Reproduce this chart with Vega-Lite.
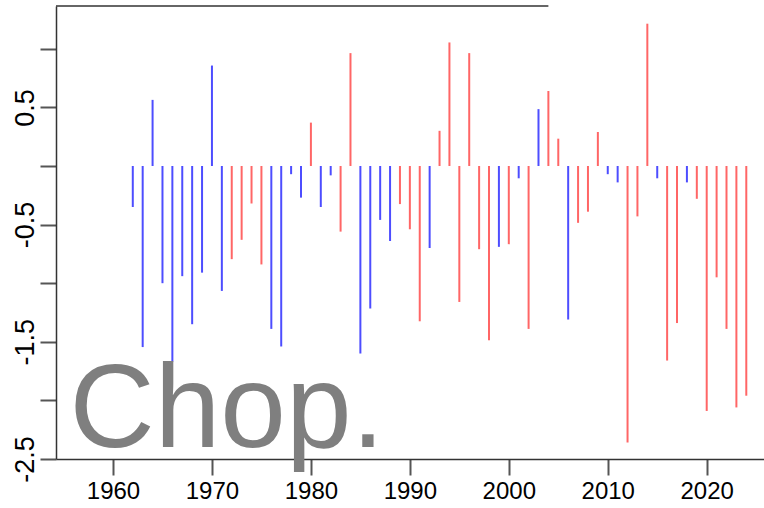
{
  "$schema": "https://vega.github.io/schema/vega-lite/v6.json",
  "autosize": {"type": "none"},
  "width": 708,
  "height": 453,
  "padding": {"left": 56, "top": 6, "right": 0, "bottom": 49},
  "background": "white",
  "config": {
    "view": {"stroke": null},
    "font": "Liberation Sans"
  },
  "data": {
    "values": [
      {"year": 1962, "value": -0.35, "group": "blue"},
      {"year": 1963, "value": -1.545, "group": "blue"},
      {"year": 1964, "value": 0.564, "group": "blue"},
      {"year": 1965, "value": -1.0, "group": "blue"},
      {"year": 1966, "value": -1.67, "group": "blue"},
      {"year": 1967, "value": -0.94, "group": "blue"},
      {"year": 1968, "value": -1.35, "group": "blue"},
      {"year": 1969, "value": -0.91, "group": "blue"},
      {"year": 1970, "value": 0.857, "group": "blue"},
      {"year": 1971, "value": -1.066, "group": "blue"},
      {"year": 1972, "value": -0.795, "group": "red"},
      {"year": 1973, "value": -0.63, "group": "red"},
      {"year": 1974, "value": -0.32, "group": "red"},
      {"year": 1975, "value": -0.84, "group": "red"},
      {"year": 1976, "value": -1.39, "group": "blue"},
      {"year": 1977, "value": -1.54, "group": "blue"},
      {"year": 1978, "value": -0.07, "group": "blue"},
      {"year": 1979, "value": -0.27, "group": "blue"},
      {"year": 1980, "value": 0.37, "group": "red"},
      {"year": 1981, "value": -0.35, "group": "blue"},
      {"year": 1982, "value": -0.08, "group": "blue"},
      {"year": 1983, "value": -0.56, "group": "red"},
      {"year": 1984, "value": 0.963, "group": "red"},
      {"year": 1985, "value": -1.6, "group": "blue"},
      {"year": 1986, "value": -1.216, "group": "blue"},
      {"year": 1987, "value": -0.46, "group": "blue"},
      {"year": 1988, "value": -0.64, "group": "blue"},
      {"year": 1989, "value": -0.325, "group": "red"},
      {"year": 1990, "value": -0.54, "group": "red"},
      {"year": 1991, "value": -1.325, "group": "red"},
      {"year": 1992, "value": -0.7, "group": "blue"},
      {"year": 1993, "value": 0.3, "group": "red"},
      {"year": 1994, "value": 1.054, "group": "red"},
      {"year": 1995, "value": -1.16, "group": "red"},
      {"year": 1996, "value": 0.963, "group": "red"},
      {"year": 1997, "value": -0.71, "group": "red"},
      {"year": 1998, "value": -1.487, "group": "red"},
      {"year": 1999, "value": -0.69, "group": "blue"},
      {"year": 2000, "value": -0.667, "group": "red"},
      {"year": 2001, "value": -0.105, "group": "blue"},
      {"year": 2002, "value": -1.39, "group": "red"},
      {"year": 2003, "value": 0.485, "group": "blue"},
      {"year": 2004, "value": 0.64, "group": "red"},
      {"year": 2005, "value": 0.233, "group": "red"},
      {"year": 2006, "value": -1.31, "group": "blue"},
      {"year": 2007, "value": -0.485, "group": "red"},
      {"year": 2008, "value": -0.39, "group": "red"},
      {"year": 2009, "value": 0.29, "group": "red"},
      {"year": 2010, "value": -0.07, "group": "blue"},
      {"year": 2011, "value": -0.14, "group": "blue"},
      {"year": 2012, "value": -2.36, "group": "red"},
      {"year": 2013, "value": -0.43, "group": "red"},
      {"year": 2014, "value": 1.214, "group": "red"},
      {"year": 2015, "value": -0.105, "group": "blue"},
      {"year": 2016, "value": -1.66, "group": "red"},
      {"year": 2017, "value": -1.34, "group": "red"},
      {"year": 2018, "value": -0.14, "group": "blue"},
      {"year": 2019, "value": -0.28, "group": "red"},
      {"year": 2020, "value": -2.09, "group": "red"},
      {"year": 2021, "value": -0.95, "group": "red"},
      {"year": 2022, "value": -1.39, "group": "red"},
      {"year": 2023, "value": -2.06, "group": "red"},
      {"year": 2024, "value": -1.96, "group": "red"}
    ]
  },
  "encoding": {
    "x": {
      "field": "year",
      "type": "quantitative",
      "scale": {"domain": [1954.24, 2025.79], "nice": false, "zero": false},
      "axis": {
        "title": null,
        "values": [1960, 1970, 1980, 1990, 2000, 2010, 2020],
        "format": "d",
        "grid": false,
        "domainColor": "#333333",
        "domainWidth": 1.5,
        "tickColor": "#555555",
        "tickWidth": 2,
        "tickSize": 16,
        "labelFontSize": 24,
        "labelColor": "#000000",
        "labelPadding": 4,
        "labelFont": "Liberation Sans"
      }
    },
    "y": {
      "field": "value",
      "type": "quantitative",
      "scale": {"domain": [-2.5, 1.365], "nice": false, "zero": false},
      "axis": {
        "title": null,
        "values": [-2.5, -2, -1.5, -1, -0.5, 0, 0.5, 1],
        "labelExpr": "abs(datum.value * 2) % 2 == 1 ? (datum.value < 0 ? '-' : '') + format(abs(datum.value), '.1f') : ''",
        "labelOverlap": false,
        "labelAngle": 270,
        "labelAlign": "center",
        "labelBaseline": "bottom",
        "grid": false,
        "domainColor": "#333333",
        "domainWidth": 1.5,
        "tickColor": "#555555",
        "tickWidth": 2,
        "tickSize": 16,
        "labelFontSize": 27,
        "labelColor": "#000000",
        "labelPadding": 1,
        "labelFont": "Liberation Sans"
      }
    }
  },
  "layer": [
    {
      "mark": {"type": "rule", "strokeWidth": 2},
      "encoding": {
        "y2": {"datum": 0},
        "color": {
          "field": "group",
          "type": "nominal",
          "scale": {"domain": ["blue", "red"], "range": ["#4d4dff", "#ff6666"]},
          "legend": null
        }
      }
    },
    {
      "data": {"values": [{"from": 1954.24, "to": 2004.0, "level": 1.365}]},
      "mark": {"type": "rule", "strokeWidth": 1.5, "color": "#333333"},
      "encoding": {
        "x": {"field": "from", "type": "quantitative"},
        "x2": {"field": "to"},
        "y": {"field": "level", "type": "quantitative"}
      }
    },
    {
      "data": {"values": [{"label": "Chop.", "year": 1955.6, "value": -2.4}]},
      "mark": {
        "type": "text",
        "font": "Liberation Sans",
        "fontSize": 118,
        "color": "#7f7f7f",
        "align": "left",
        "baseline": "alphabetic"
      },
      "encoding": {
        "text": {"field": "label"},
        "x": {"field": "year", "type": "quantitative"},
        "y": {"field": "value", "type": "quantitative"}
      }
    }
  ]
}
